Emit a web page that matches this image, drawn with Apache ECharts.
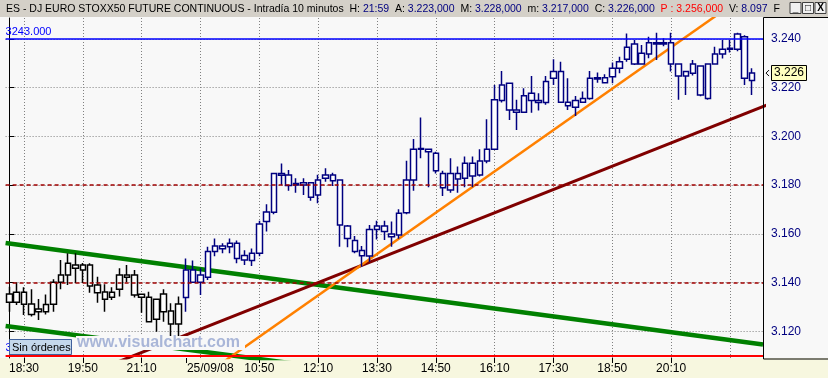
<!DOCTYPE html>
<html><head><meta charset="utf-8">
<script src="https://cdn.jsdelivr.net/npm/echarts@6/dist/echarts.min.js"></script>
<style>html,body{margin:0;padding:0;background:#f8f8f8}#c{width:828px;height:378px}</style>
</head><body><div id="c"></div>
<script>
// ---- data ----
const times = ['18:10','18:20','18:30','18:40','18:50','19:00','19:10','19:20','19:30','19:40','19:50','20:00','20:10','20:20','20:30','20:40','20:50','21:00','21:10','21:20','21:30','21:40','21:50','22:00',
'9:10','9:20','9:30','9:40','9:50',
'10:00','10:10','10:20','10:30','10:40','10:50','11:00','11:10','11:20','11:30','11:40','11:50',
'12:00','12:10','12:20','12:30','12:40','12:50','13:00','13:10','13:20','13:30','13:40','13:50',
'14:00','14:10','14:20','14:30','14:40','14:50','15:00','15:10','15:20','15:30','15:40','15:50',
'16:00','16:10','16:20','16:30','16:40','16:50','17:00','17:10','17:20','17:30','17:40','17:50',
'18:00','18:10','18:20','18:30','18:40','18:50','19:00','19:10','19:20','19:30','19:40','19:50',
'20:00','20:10','20:20','20:30','20:40','20:50','21:00','21:10','21:20','21:30','21:40','21:50','22:00'];
const opens  = [3.1353,3.1319,3.1360,3.1312,3.1280,3.1280,3.1311,3.1401,3.1431,3.1472,3.1451,3.1472,3.1390,3.1361,3.1339,3.1372,3.1431,3.1431,3.1339,3.1339,3.1249,3.1353,3.1283,3.1230,
3.1338,3.1451,3.1401,3.1422,3.1527,3.1550,3.1547,3.1561,3.1511,3.1490,3.1520,3.1650,3.1688,3.1840,3.1841,3.1800,3.1800,3.1810,3.1759,3.1828,3.1841,3.1821,3.1632,3.1572,3.1531,3.1509,
3.1618,3.1632,3.1599,3.1595,3.1686,3.1821,3.1947,3.1947,3.1931,3.1848,3.1780,3.1848,3.1828,3.1890,3.1841,3.1899,3.1947,3.2147,3.2218,3.2108,3.2099,3.2177,3.2147,3.2139,3.2239,3.2266,
3.2140,3.2120,3.2140,3.2156,3.2241,3.2220,3.2245,3.2280,3.2317,3.2379,3.2297,3.2338,3.2379,3.2379,3.2385,3.2297,3.2248,3.2259,3.2289,3.2156,3.2297,3.2338,3.2358,3.2358,3.2409,3.2230];
const closes = [3.1319,3.1360,3.1311,3.1269,3.1291,3.1310,3.1401,3.1431,3.1479,3.1458,3.1472,3.1386,3.1358,3.1331,3.1360,3.1431,3.1422,3.1349,3.1352,3.1239,3.1331,3.1280,3.1230,3.1312,
3.1451,3.1401,3.1431,3.1527,3.1550,3.1539,3.1561,3.1499,3.1492,3.1520,3.1640,3.1689,3.1848,3.1848,3.1798,3.1807,3.1810,3.1750,3.1821,3.1841,3.1818,3.1636,3.1581,3.1527,3.1510,3.1618,
3.1632,3.1609,3.1588,3.1684,3.1821,3.1947,3.1950,3.1937,3.1859,3.1789,3.1848,3.1825,3.1890,3.1837,3.1899,3.1947,3.2150,3.2211,3.2108,3.2099,3.2167,3.2147,3.2139,3.2225,3.2266,3.2140,
3.2126,3.2147,3.2156,3.2239,3.2236,3.2241,3.2280,3.2307,3.2366,3.2297,3.2341,3.2385,3.2385,3.2385,3.2297,3.2248,3.2266,3.2297,3.2170,3.2297,3.2338,3.2358,3.2362,3.2420,3.2239,3.2260];
const lows   = [3.1280,3.1308,3.1267,3.1260,3.1246,3.1269,3.1280,3.1372,3.1390,3.1397,3.1398,3.1358,3.1317,3.1280,3.1328,3.1342,3.1402,3.1338,3.1276,3.1236,3.1198,3.1239,3.1180,3.1175,
3.1280,3.1399,3.1349,3.1410,3.1508,3.1520,3.1520,3.1479,3.1472,3.1468,3.1508,3.1609,3.1680,3.1800,3.1777,3.1769,3.1759,3.1736,3.1725,3.1814,3.1796,3.1547,3.1545,3.1520,3.1465,3.1485,
3.1577,3.1575,3.1547,3.1580,3.1680,3.1777,3.1910,3.1791,3.1848,3.1755,3.1769,3.1769,3.1791,3.1791,3.1835,3.1890,3.1947,3.2139,3.2067,3.2026,3.2099,3.2097,3.2106,3.2130,3.2211,3.2140,
3.2108,3.2084,3.2140,3.2150,3.2220,3.2220,3.2218,3.2259,3.2307,3.2293,3.2297,3.2321,3.2314,3.2370,3.2266,3.2150,3.2170,3.2250,3.2165,3.2150,3.2297,3.2320,3.2345,3.2350,3.2211,3.2170];
const highs  = [3.1382,3.1401,3.1380,3.1372,3.1332,3.1351,3.1413,3.1492,3.1520,3.1520,3.1480,3.1479,3.1424,3.1393,3.1380,3.1458,3.1472,3.1451,3.1352,3.1362,3.1331,3.1372,3.1315,3.1342,
3.1499,3.1490,3.1458,3.1547,3.1581,3.1561,3.1581,3.1572,3.1532,3.1540,3.1654,3.1721,3.1850,3.1889,3.1862,3.1828,3.1828,3.1812,3.1842,3.1869,3.1851,3.1821,3.1636,3.1591,3.1550,3.1636,
3.1654,3.1654,3.1650,3.1701,3.1900,3.1989,3.2078,3.1947,3.1937,3.1859,3.1910,3.1876,3.1917,3.1917,3.1947,3.2070,3.2211,3.2269,3.2220,3.2150,3.2198,3.2248,3.2177,3.2248,3.2317,3.2307,
3.2239,3.2166,3.2184,3.2269,3.2262,3.2255,3.2303,3.2327,3.2423,3.2396,3.2375,3.2409,3.2426,3.2403,3.2426,3.2297,3.2266,3.2314,3.2289,3.2297,3.2368,3.2396,3.2396,3.2426,3.2415,3.2280];
const dayBreak = 24;            // first bar of 25/09/08
const dateLabel = '25/09/08';
const labelIdx = [2,10,18,24,34,42,50,58,66,74,82,90];
const gridIdx  = [2,10,18,26,34,42,50,58,66,74,82,90,98];
const yMin = 3.10899, yMax = 3.24862;
const blueLevel = 3.243, redLevel = 3.1106, dashedLevels = [3.182, 3.1376];
const greenUpper = [[-0.5, 3.1562], [102.5, 3.1145]];
const greenLower = [[-0.5, 3.1221], [40, 3.1062]];
const orangeLine = [[20, 3.0880], [100, 3.2578]];
const darkRedLine = [[10, 3.1017], [104, 3.2140]];
const titleInfo = {H:'21:59', A:'3.223,000', M:'3.228,000', m:'3.217,000', C:'3.226,000', P:'3.256,000', V:'8.097'};

// ---- chart ----
const FF = '"Liberation Sans", Arial, sans-serif';
const cats = times.concat(['']);
const day1 = {color:'#ffffff', color0:'#000000', borderColor:'#000000', borderColor0:'#000000', borderWidth:1.5};
const day2 = {color:'#ffffff', color0:'#000080', borderColor:'#000080', borderColor0:'#000080', borderWidth:1.5};
const candles = opens.map((o,i)=>({value:[o, closes[i], lows[i], highs[i]], itemStyle: i < dayBreak ? day1 : day2}));
const labelSet = new Set(labelIdx), gridSet = new Set(gridIdx);

const chart = echarts.init(document.getElementById('c'), null, {renderer:'canvas'});
const lineSeries = (data, color, width, z, extra) => Object.assign({
  type:'line', xAxisIndex:1, yAxisIndex:0, data, symbol:'none', clip:true, silent:true, z,
  lineStyle:{color, width}, animation:false
}, extra||{});

const mlLabel = (txt) => ({show:true, position:'insideStartTop', formatter: txt, color:'#0000ff', fontSize:11, fontFamily:FF, distance:[0,2]});

chart.setOption({
  animation:false,
  backgroundColor:'#f8f8f8',
  grid:{left:5.6, right:65, top:18, bottom:20, containLabel:false},
  xAxis:[{
    type:'category', data:cats, boundaryGap:true,
    axisLine:{show:false},
    axisTick:{show:true, alignWithLabel:true, length:5, interval:(i)=>labelSet.has(i), lineStyle:{color:'#000'}},
    axisLabel:{interval:(i)=>labelSet.has(i), color:'#000', fontSize:12, fontFamily:FF, margin:5,
      formatter:(v,i)=> i===dayBreak ? '{d|'+dateLabel+'}' : v,
      rich:{d:{color:'#000', fontSize:12, fontFamily:FF, padding:[0,0,0,49]}}},
    splitLine:{show:true, alignWithLabel:true, interval:(i)=>gridSet.has(i), lineStyle:{color:'#808080', width:1, type:[1,2]}}
  },{
    type:'value', min:-0.5, max:cats.length-0.5, show:false
  }],
  yAxis:[{
    type:'value', position:'right', min:yMin, max:yMax, splitNumber:7,
    axisLine:{show:true, lineStyle:{color:'#000', width:1}},
    axisTick:{show:true, length:5, lineStyle:{color:'#000'}},
    axisLabel:{color:'#000080', fontSize:12, fontFamily:FF, margin:8, showMinLabel:false, showMaxLabel:false, formatter:(v)=>v.toFixed(3)},
    splitLine:{show:true, showMinLine:false, showMaxLine:false, lineStyle:{color:'#808080', width:1, type:[1,2]}}
  }],
  series:[
    lineSeries(greenUpper, '#008000', 4.5, 2, {
      markLine:{silent:true, symbol:['none','none'], animation:false,
        data:[
          {yAxis:blueLevel, lineStyle:{color:'#0000ff', width:1.5, type:'solid'}, label:mlLabel((blueLevel*1000).toFixed(3))},
          {yAxis:redLevel, lineStyle:{color:'#ff0000', width:2, type:'solid'}, label:mlLabel((redLevel*1000).toFixed(3))},
          {yAxis:dashedLevels[0], lineStyle:{color:'#a00000', width:1.5, type:[4,3]}, label:{show:false}},
          {yAxis:dashedLevels[1], lineStyle:{color:'#a00000', width:1.5, type:[4,3]}, label:{show:false}}
        ]}
    }),
    lineSeries(greenLower, '#008000', 4.5, 2),
    lineSeries(darkRedLine, '#800000', 3, 2),
    lineSeries(orangeLine, '#ff8000', 2.5, 2),
    {type:'candlestick', xAxisIndex:0, yAxisIndex:0, data:candles, barWidth:6, z:3, silent:true, animation:false}
  ]
});

// ---- decorations (title bar, axis band, panels) ----
const last = closes.length-1;
const tagY = chart.convertToPixel({yAxisIndex:0}, closes[last]);
const TF = 10.5;
const rich = {
  k:{fill:'#000', fontSize:TF, fontFamily:FF},
  v:{fill:'#000080', fontSize:TF, fontFamily:FF},
  p:{fill:'#ff0000', fontSize:TF, fontFamily:FF}
};
const titleText = '{k|ES - DJ EURO STOXX50 FUTURE CONTINUOUS - Intradía 10 minutos  H: }{v|'+titleInfo.H+'}'
 + '{k|  A: }{v|'+titleInfo.A+'}{k|  M: }{v|'+titleInfo.M+'}{k|  m: }{v|'+titleInfo.m+'}{k|  C: }{v|'+titleInfo.C+'}'
 + '{p|  P : '+titleInfo.P+'}{k|  V: }{v|'+titleInfo.V+'}{k|  F}';
const btn = (x, glyph) => ([
  {type:'rect', z:50, shape:{x:x, y:2.5, width:11, height:11}, style:{fill:'#f0f0f0', stroke:'#404040', lineWidth:1}},
  {type:'text', z:51, style:{x:x+5.5, y:8.5, text:glyph, fill:'#000', font:'bold 10px '+FF, align:'center', verticalAlign:'middle'}}
]);
chart.setOption({
  graphic:[
    {type:'rect', z:-1, silent:true, shape:{x:0, y:358, width:828, height:20}, style:{fill:'#f7f7df'}},
    {type:'rect', z:50, silent:true, shape:{x:0, y:0, width:828, height:17}, style:{fill:'#d4d0c8'}},
    {type:'text', z:51, silent:true, style:{x:6, y:9, text:titleText, rich:rich, verticalAlign:'middle', font:TF+'px '+FF}},
    ...btn(790,'_'), ...btn(802.5,'□'), ...btn(815,'X'),
    {type:'rect', z:40, silent:true, shape:{x:763.5, y:17.5, width:70, height:341.5}, style:{fill:'none', stroke:'#000', lineWidth:1}},
    {type:'rect', z:40, silent:true, shape:{x:76, y:336, width:169, height:14}, style:{fill:'#f8f8f8'}},
    {type:'text', z:41, silent:true, style:{x:77, y:343, text:'www.visualchart.com', fill:'#a9b6d8', font:'bold 16px '+FF, verticalAlign:'middle'}},
    {type:'rect', z:42, silent:true, shape:{x:9.5, y:339.5, width:62, height:15}, style:{fill:'#c4d8ec', stroke:'#40609c', lineWidth:1}},
    {type:'text', z:43, silent:true, style:{x:12, y:347.5, text:'Sin órdenes', fill:'#000', font:'11px '+FF, verticalAlign:'middle'}},
    {type:'polyline', z:44, silent:true, shape:{points:[[769,tagY-3],[766,tagY],[769,tagY+3]]}, style:{stroke:'#000', lineWidth:1, fill:'none'}},
    {type:'rect', z:44, silent:true, shape:{x:771.5, y:Math.round(tagY)-7.5, width:35, height:15}, style:{fill:'#ffffc0', stroke:'#000', lineWidth:1}},
    {type:'text', z:45, silent:true, style:{x:789, y:Math.round(tagY), text:closes[last].toFixed(3), fill:'#000', font:'12px '+FF, align:'center', verticalAlign:'middle'}}
  ]
});
</script></body></html>
